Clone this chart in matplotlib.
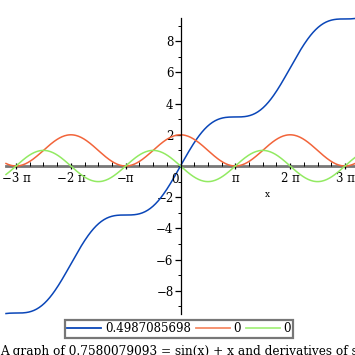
import numpy as np
import matplotlib
matplotlib.use("Agg")
import matplotlib.pyplot as plt
from matplotlib.ticker import MultipleLocator, FixedLocator
from matplotlib.lines import Line2D

# ---- data ----
x_range = [-10.0, 10.0]
n_samples = 400
x_major = [-3*np.pi, -2*np.pi, -np.pi, np.pi, 2*np.pi, 3*np.pi]
x_labels = ["\u22123 \u03c0", "\u22122 \u03c0", "\u2212\u03c0", "\u03c0", "2 \u03c0", "3 \u03c0"]
y_major = [-8, -6, -4, -2, 2, 4, 6, 8]
y_labels = ["\u22128", "\u22126", "\u22124", "\u22122", "2", "4", "6", "8"]
series_labels = ["0.4987085698", "0", "0"]
title_text = "A graph of 0.7580079093 = sin(x) + x and derivatives of sin(x) + x"

xs = np.linspace(x_range[0], x_range[1], n_samples)
f0 = np.sin(xs) + xs          # the function named in the title
f1 = np.cos(xs) + 1           # first derivative
f2 = -np.sin(xs)              # second derivative

colors = ["#0a46b8", "#f2643a", "#92ea62"]
leg_colors = ["#2a62c4", "#f48a66", "#a6f07e"]
FS = 8.5
FAM = "DejaVu Serif"

W, H = 355, 355
fig = plt.figure(figsize=(W/100, H/100), dpi=100)
ax = fig.add_axes([6/W, (H-313.6)/H, 349/W, (313.6-18.4)/H])
ax.set_facecolor("none")

for y, c in zip([f0, f1, f2], colors):
    ax.plot(xs, y, color=c, lw=1.1, clip_on=False)

ax.set_xlim(x_range)
ax.set_ylim(-9.46, 9.46)

for s in ["top", "right"]:
    ax.spines[s].set_visible(False)
ax.spines["left"].set_position(("data", 0))
ax.spines["bottom"].set_position(("data", 0))
ax.spines["bottom"].set_color("#777777")
ax.spines["bottom"].set_linewidth(2.0)
ax.spines["left"].set_color("black")
ax.spines["left"].set_linewidth(0.9)
ax.spines["bottom"].set_zorder(0.5)

ax.xaxis.set_major_locator(FixedLocator(x_major))
ax.set_xticklabels(x_labels, family=FAM, fontsize=FS)
ax.xaxis.set_minor_locator(MultipleLocator(np.pi/4))
ax.yaxis.set_major_locator(FixedLocator(y_major))
ax.set_yticklabels(y_labels, family=FAM, fontsize=FS)
ax.yaxis.set_minor_locator(MultipleLocator(1))
ax.tick_params(axis="x", which="major", direction="inout", length=5, width=0.9, pad=2, color="black")
ax.tick_params(axis="x", which="minor", direction="in", length=3, width=0.7, color="black")
ax.tick_params(axis="y", which="major", direction="out", length=4, width=0.9, pad=1)
ax.tick_params(axis="y", which="minor", direction="out", length=2, width=0.7)

ax.text(-0.1, -0.45, "0", family=FAM, fontsize=FS, ha="right", va="top")
ax.text(5.0, -1.55, "x", family=FAM, fontsize=6.5, ha="center", va="top")

handles = [Line2D([], [], color=c, lw=1.3) for c in leg_colors]
handles[0].set_color(colors[0])
leg = fig.legend(handles, series_labels, loc="center", bbox_to_anchor=(179/W, 1-329/H),
                 ncol=3, frameon=True, fancybox=False,
                 prop={"family": FAM, "size": FS},
                 handlelength=2.9, handletextpad=0.3, columnspacing=0.4,
                 borderpad=0.2, borderaxespad=0)
leg.get_frame().set_edgecolor("#555555")
leg.get_frame().set_linewidth(1.6)

fig.text(0.0, 1-351/H, title_text, family=FAM, fontsize=8.7, ha="left", va="center")

fig.savefig("out.png", dpi=100)
